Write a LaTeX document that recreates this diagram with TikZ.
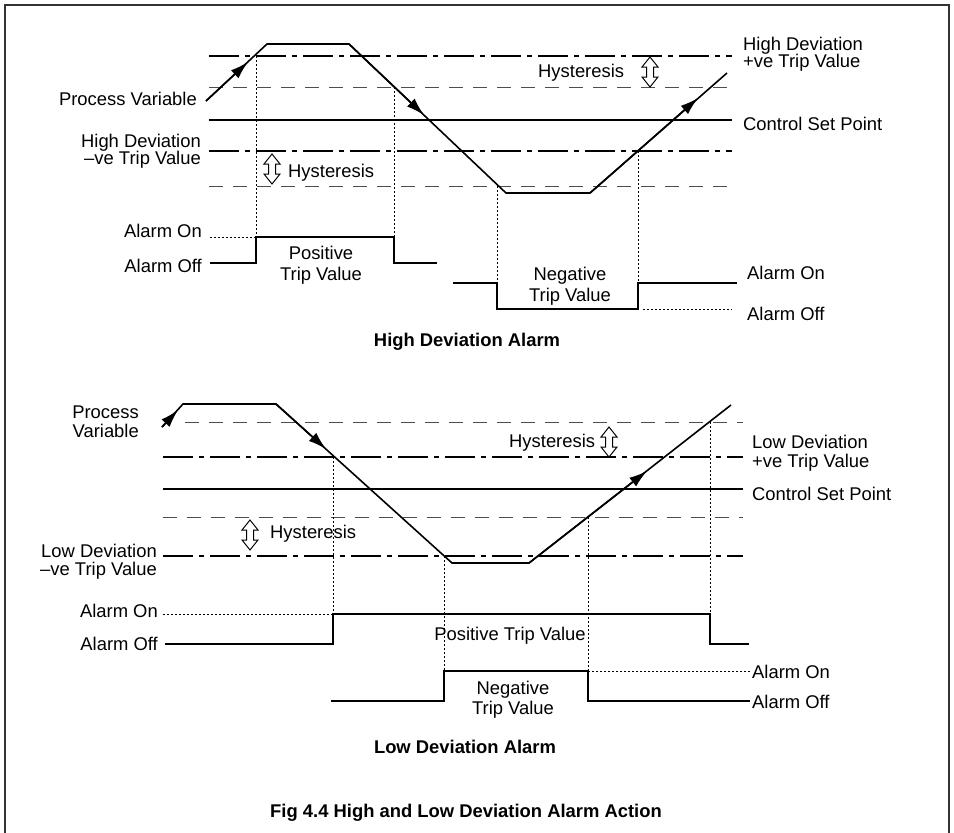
\documentclass[tikz,border=0pt]{standalone}
\usepackage{fontspec}
\setmainfont{Liberation Sans}
\usetikzlibrary{arrows.meta}
\begin{document}
\begin{tikzpicture}[x=1pt,y=-1pt,
  lbl/.style={inner sep=0pt, text height=13pt, text depth=2pt, font=\fontsize{18.4}{20}\selectfont},
  ttl/.style={inner sep=0pt, font=\bfseries\fontsize{18.4}{20}\selectfont},
  tripline/.style={line width=1.6pt, dash pattern=on 30pt off 6pt on 5pt off 6pt},
  hystline/.style={line width=0.9pt, black!70, dash pattern=on 14pt off 10pt},
  spline/.style={line width=1.4pt},
  pvline/.style={line width=1.6pt, line join=miter},
  dotline/.style={line width=0.8pt, dash pattern=on 2pt off 2pt},
  sigline/.style={line width=1.6pt},
  pvarrow/.style={line width=1.6pt, -{Latex[length=18pt,width=11pt]}},
  hyst/.pic={\draw[line width=1pt, fill=white] (0,-15) -- (8,-5) -- (3.5,-5) -- (3.5,5) -- (8,5) -- (0,15) -- (-8,5) -- (-3.5,5) -- (-3.5,-5) -- (-8,-5) -- cycle;}
]
\useasboundingbox (0,0) rectangle (954,833);
% frame
\draw[line width=2pt, black!80] (5,833) -- (5,5) -- (949,5) -- (949,833);

% ===== upper: high deviation =====
\draw[tripline] (209,56) -- (732,56);
\draw[hystline] (209,87) -- (732,87);
\draw[spline] (209,120) -- (732,120);
\draw[tripline] (209,151) -- (732,151);
\draw[hystline] (209,186) -- (732,186);

\draw[dotline] (256,56) -- (256,237);
\draw[dotline] (394,87) -- (394,237);
\draw[dotline] (497,186) -- (497,283);
\draw[dotline] (638,151) -- (638,283);

\draw[pvline] (206,101) -- (267,44) -- (349,44) -- (506,193) -- (590,193) -- (727,73);
\draw[pvarrow] (206,101) -- (248,62);
\draw[pvarrow] (349,44) -- (424,115);
\draw[pvarrow] (590,193) -- (698,98);

\pic at (650,72) {hyst};
\pic at (272,169) {hyst};

\node[lbl, anchor=base west] (uhys1) at (538,77) {Hysteresis};
\node[lbl, anchor=base west] (uhys2) at (288,177) {Hysteresis};
\node[lbl, anchor=base east] (upv) at (197,105) {Process Variable};
\node[lbl, anchor=base east] (uneg1) at (201,147) {High Deviation};
\node[lbl, anchor=base east] (uneg2) at (201,164) {–ve Trip Value};
\node[lbl, anchor=base west] (upos1) at (743,50) {High Deviation};
\node[lbl, anchor=base west] (upos2) at (743,67) {+ve Trip Value};
\node[lbl, anchor=base west] (usp) at (743,130) {Control Set Point};

% alarm signals
\draw[dotline] (210,237) -- (256,237);
\draw[sigline] (210,263) -- (256,263) -- (256,237) -- (394,237) -- (394,263) -- (437,263);
\draw[sigline] (453,283) -- (497,283) -- (497,309) -- (638,309) -- (638,283) -- (737,283);
\draw[dotline] (643,309) -- (732,309);

\node[lbl, anchor=base east] (uon) at (202,237) {Alarm On};
\node[lbl, anchor=base east] (uoff) at (202,272) {Alarm Off};
\node[lbl, anchor=base] (upt1) at (321,259) {Positive};
\node[lbl, anchor=base] (upt2) at (321,280) {Trip Value};
\node[lbl, anchor=base] (unt1) at (570,280) {Negative};
\node[lbl, anchor=base] (unt2) at (570,301) {Trip Value};
\node[lbl, anchor=base west] (uon2) at (747,279) {Alarm On};
\node[lbl, anchor=base west] (uoff2) at (747,320) {Alarm Off};
\node[ttl, anchor=base] (utitle) at (467,346) {High Deviation Alarm};

% ===== lower: low deviation =====
\draw[hystline] (185,422) -- (743,422);
\draw[tripline] (163,457) -- (743,457);
\draw[spline] (163,489) -- (743,489);
\draw[hystline] (163,517) -- (743,517);
\draw[tripline] (163,556) -- (743,556);

\draw[dotline] (333,457) -- (333,614);
\draw[dotline] (444,556) -- (444,671);
\draw[dotline] (588,517) -- (588,671);
\draw[dotline] (710,422) -- (710,614);

\draw[pvline] (162,427) -- (183,404) -- (276,404) -- (452,563) -- (529,563) -- (731,405);
\draw[pvarrow] (162,427) -- (178,410);
\draw[pvarrow] (276,404) -- (326,449);
\draw[pvarrow] (529,563) -- (647,471);

\pic at (609,442) {hyst};
\pic at (250,535) {hyst};

\node[lbl, anchor=base west] (lhys1) at (509,447) {Hysteresis};
\node[lbl, anchor=base west] (lhys2) at (270,538) {Hysteresis};
\node[lbl, anchor=base east] (lpv1) at (139,418) {Process};
\node[lbl, anchor=base east] (lpv2) at (139,437) {Variable};
\node[lbl, anchor=base east] (lneg1) at (157,557) {Low Deviation};
\node[lbl, anchor=base east] (lneg2) at (157,575) {–ve Trip Value};
\node[lbl, anchor=base west] (lpos1) at (752,448) {Low Deviation};
\node[lbl, anchor=base west] (lpos2) at (752,467) {+ve Trip Value};
\node[lbl, anchor=base west] (lsp) at (752,500) {Control Set Point};

\draw[dotline] (163,614) -- (333,614);
\draw[sigline] (165,644) -- (333,644) -- (333,614) -- (710,614) -- (710,644) -- (749,644);
\draw[sigline] (331,701) -- (444,701) -- (444,671) -- (588,671) -- (588,701) -- (750,701);
\draw[dotline] (588,671) -- (750,671);

\node[lbl, anchor=base east] (lon) at (158,617) {Alarm On};
\node[lbl, anchor=base east] (loff) at (158,650) {Alarm Off};
\node[lbl, anchor=base] (lpt) at (510,640) {Positive Trip Value};
\node[lbl, anchor=base] (lnt1) at (513,694) {Negative};
\node[lbl, anchor=base] (lnt2) at (513,714) {Trip Value};
\node[lbl, anchor=base west] (lon2) at (752,678) {Alarm On};
\node[lbl, anchor=base west] (loff2) at (752,708) {Alarm Off};
\node[ttl, anchor=base] (ltitle) at (465,753) {Low Deviation Alarm};

\node[ttl, anchor=base] (fig) at (466,817) {Fig 4.4 High and Low Deviation Alarm Action};
\end{tikzpicture}
\end{document}
